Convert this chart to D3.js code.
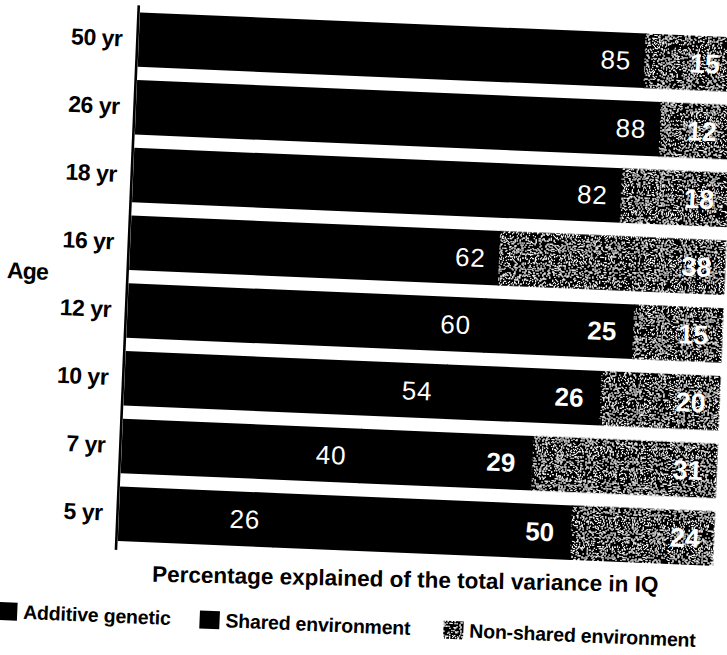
<!DOCTYPE html>
<html>
<head>
	<meta charset="utf-8">
	<title>IQ variance by age</title>
	<script src="https://d3js.org/d3.v7.min.js"></script>
	<style>
		body { margin: 0; background: #fff; }
		text { font-family: 'Liberation Sans', Arial, sans-serif; }
	</style>
</head>
<body>
	<div class="chart"></div>

	<script type="text/javascript">

		var ages = ['50 yr', '26 yr', '18 yr', '16 yr', '12 yr', '10 yr', '7 yr', '5 yr']
		var additive = [85, 88, 82, 62, 60, 54, 40, 26]
		var shared = [0, 0, 0, 0, 25, 26, 29, 50]
		var nonShared = [15, 12, 18, 38, 15, 20, 31, 24]
		var seriesNames = ['Additive genetic', 'Shared environment', 'Non-shared environment']

		var width = 727
		var height = 655

		var rows = ages.map((a, i) => ({ age: a, s0: additive[i], s1: shared[i], s2: nonShared[i] }))

		/**
		 * canvas (the scanned figure is slightly tilted)
		 */
		var svg = d3
			.select('.chart')
			.append('svg')
			.attr('width', width)
			.attr('height', height)

		// speckled grey texture for the non-shared segments
		var defs = svg.append('defs')
		var grain = defs.append('filter')
			.attr('id', 'grain')
			.attr('x', 0).attr('y', 0)
			.attr('width', '100%').attr('height', '100%')
		grain.append('feTurbulence')
			.attr('type', 'fractalNoise')
			.attr('baseFrequency', 0.8)
			.attr('numOctaves', 3)
			.attr('seed', 7)
		grain.append('feColorMatrix')
			.attr('type', 'matrix')
			.attr('values', '1 0 0 0 0  1 0 0 0 0  1 0 0 0 0  0 0 0 0 1')
		var table = '0 0 0 0 0 0 0 0 0 0 0 0 0.95 0.95 0.95 0.95 0.95 0.95 0.95 0.95'
		var ct = grain.append('feComponentTransfer')
		ct.append('feFuncR').attr('type', 'discrete').attr('tableValues', table)
		ct.append('feFuncG').attr('type', 'discrete').attr('tableValues', table)
		ct.append('feFuncB').attr('type', 'discrete').attr('tableValues', table)
		grain.append('feComposite').attr('in2', 'SourceGraphic').attr('operator', 'in')

		var chart = svg.append('g').attr('transform', 'rotate(2.4, 363, 327)')

		/**
		 * scales
		 */
		var x = d3.scaleLinear().domain([0, 100]).range([127, 722.5])
		var y = d3.scaleBand().domain(ages).range([22, 551]).paddingInner(0.196).paddingOuter(0)

		var fills = ['#000', '#000', '#555']
		var labelPad = [13.5, 17, 14]
		var labelWeight = ['normal', 'bold', 'bold']
		var labelSize = [26, 26, 27]

		var stack = d3.stack().keys(['s0', 's1', 's2'])
		var series = stack(rows)

		/**
		 * bars
		 */
		var groups = chart.selectAll('.series')
			.data(series)
			.enter()
			.append('g')
			.attr('class', 'series')

		groups.selectAll('rect')
			.data((d) => d.map((v) => ({ key: d.key, idx: d.index, v: v })))
			.enter()
			.append('rect')
			.attr('x', (d) => x(d.v[0]))
			.attr('y', (d) => y(d.v.data.age))
			// black segments overlap a little so no seam shows between them
			.attr('width', (d) => x(d.v[1]) - x(d.v[0]) + (d.idx < 2 && d.v[1] > d.v[0] ? 1 : 0))
			.attr('height', y.bandwidth())
			.attr('fill', (d) => fills[d.idx])
			.attr('filter', (d) => d.idx === 2 ? 'url(#grain)' : null)

		groups.selectAll('text')
			.data((d) => d.map((v) => ({ key: d.key, idx: d.index, v: v })).filter((d) => d.v[1] - d.v[0] > 0))
			.enter()
			.append('text')
			.attr('x', (d) => x(d.v[1]) - labelPad[d.idx])
			.attr('y', (d) => y(d.v.data.age) + y.bandwidth() / 2)
			.attr('dy', '0.36em')
			.attr('text-anchor', 'end')
			.attr('fill', '#fff')
			.attr('font-size', (d) => labelSize[d.idx])
			.attr('font-weight', (d) => labelWeight[d.idx])
			.attr('letter-spacing', (d) => d.idx === 0 ? 0.8 : 0)
			.text((d) => d.v[1] - d.v[0])

		/**
		 * y axis
		 */
		var yAxis = chart.append('g')
			.attr('transform', `translate(${x(0) - 1.5}, 0)`)
			.call(d3.axisLeft(y).tickSize(0).tickPadding(15))
		yAxis.select('.domain').remove()
		yAxis.selectAll('text')
			.attr('font-family', "'Liberation Sans', Arial, sans-serif")
			.attr('font-size', 23)
			.attr('font-weight', 'bold')
			.attr('letter-spacing', -0.5)
			.attr('fill', '#000')

		chart.append('line')
			.attr('x1', x(0) - 1.5)
			.attr('x2', x(0) - 1.5)
			.attr('y1', y.range()[0] - 7)
			.attr('y2', y.range()[1] + 9)
			.attr('stroke', '#000')
			.attr('stroke-width', 2.6)

		chart.append('text')
			.attr('x', 5)
			.attr('y', 293)
			.attr('font-size', 23)
			.attr('font-weight', 'bold')
			.attr('letter-spacing', -0.8)
			.text('Age')

		/**
		 * x axis title
		 */
		chart.append('text')
			.attr('x', 416)
			.attr('y', 585)
			.attr('text-anchor', 'middle')
			.attr('font-size', 22.5)
			.attr('font-weight', 'bold')
			.attr('transform', 'rotate(-1.2, 416, 585)')
			.text('Percentage explained of the total variance in IQ')

		/**
		 * legend
		 */
		var legendX = [9.5, 212, 456]
		var legend = chart.selectAll('.legend')
			.data(seriesNames)
			.enter()
			.append('g')
			.attr('class', 'legend')
			.attr('transform', (d, i) => `translate(${legendX[i]}, 626)`)

		legend.append('rect')
			.attr('x', 0)
			.attr('y', -9)
			.attr('width', 20)
			.attr('height', 18)
			.attr('fill', (d, i) => fills[i])
			.attr('filter', (d, i) => i === 2 ? 'url(#grain)' : null)

		legend.append('text')
			.attr('x', 26)
			.attr('y', 0)
			.attr('dy', '0.35em')
			.attr('font-size', 19.5)
			.attr('font-weight', 'bold')
			.attr('letter-spacing', -0.2)
			.text((d) => d)

	</script>
</body>
</html>
